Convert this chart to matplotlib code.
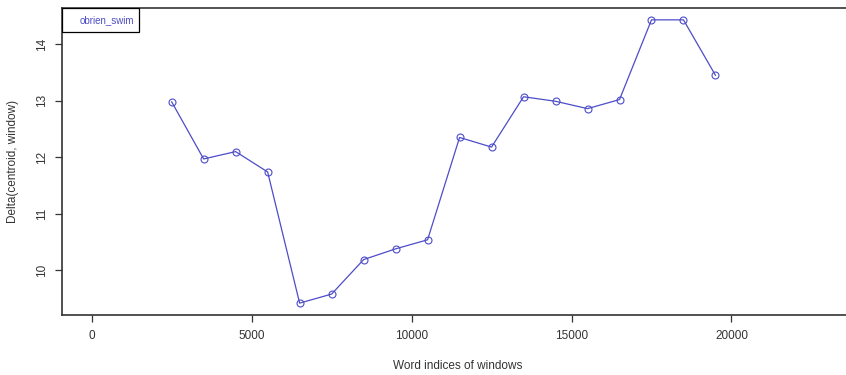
import matplotlib.pyplot as plt
from matplotlib.patches import Rectangle

plt.rcParams['font.family'] = ['Liberation Sans', 'DejaVu Sans']

# window start indices and centroid distances
window_idx = [2500, 3500, 4500, 5500, 6500, 7500, 8500, 9500, 10500,
              11500, 12500, 13500, 14500, 15500, 16500, 17500, 18500, 19500]
delta = [12.98, 11.97, 12.10, 11.74, 9.42, 9.58, 10.19, 10.38, 10.54,
         12.35, 12.18, 13.07, 12.99, 12.86, 13.02, 14.43, 14.43, 13.45]
x_ticks = [0, 5000, 10000, 15000, 20000]
y_ticks = [10, 11, 12, 13, 14]
series_name = "obrien_swim"

line_col = "#4d4dc8"
ink = "#333333"

fig = plt.figure(figsize=(8.46, 3.75), dpi=100)
ax = fig.add_axes([0.0733, 0.16, 0.935, 0.8187])

ax.plot(window_idx, delta, color=line_col, lw=0.9, marker='o', ms=5,
        mfc='none', mec=line_col, mew=0.8)

ax.set_xlim(-928, 23800)
ax.set_ylim(9.21, 14.64)
ax.set_xticks(x_ticks)
ax.set_xticklabels([str(t) for t in x_ticks])
ax.set_yticks(y_ticks)
ax.set_yticklabels([str(t) for t in y_ticks], rotation=90, va='center')

ax.tick_params(direction='out', length=5, width=0.9, colors=ink,
               labelsize=8.5, pad=6)
ax.tick_params(axis='y', pad=5)
for s in ax.spines.values():
    s.set_color(ink)
    s.set_linewidth(1.2)

ax.set_xlabel("Word indices of windows", fontsize=8.5, color=ink, labelpad=13)
ax.set_ylabel("Delta(centroid, window)", fontsize=8.5, color=ink, labelpad=12)

# legend box flush with the top-left corner
ax.add_patch(Rectangle((0, 0.922), 0.0973, 0.078, transform=ax.transAxes,
                       fc='white', ec='black', lw=0.9, zorder=3))
ax.text(0.0228, 0.961, series_name, transform=ax.transAxes, ha='left',
        va='center', fontsize=7, color=line_col, zorder=4)

fig.savefig("out.png", dpi=100)
